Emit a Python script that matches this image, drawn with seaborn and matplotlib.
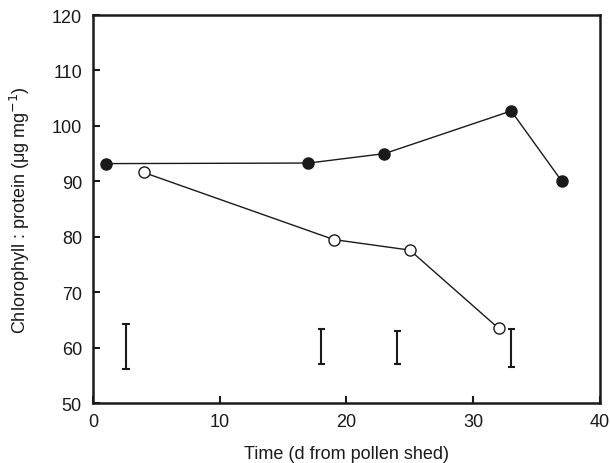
import matplotlib
matplotlib.use("Agg")
import matplotlib.pyplot as plt
import seaborn as sns
import pandas as pd

filled_x = [1, 17, 23, 33, 37]
filled_y = [93.2, 93.3, 95.0, 102.7, 90.0]
open_x = [4, 19, 25, 32]
open_y = [91.6, 79.5, 77.6, 63.5]
bar_x = [2.6, 18.0, 24.0, 33.0]
bar_lo = [56.1, 57.0, 57.0, 56.6]
bar_hi = [64.2, 63.3, 63.1, 63.4]

sns.set_theme(style="ticks")
plt.rcParams['font.family'] = ['Liberation Sans', 'DejaVu Sans']

fig = plt.figure(figsize=(6.1, 4.64), dpi=100)
ax = fig.add_axes([0.1525, 0.129, 0.831, 0.8365])

df_f = pd.DataFrame({"x": filled_x, "y": filled_y})
df_o = pd.DataFrame({"x": open_x, "y": open_y})

sns.lineplot(data=df_f, x="x", y="y", ax=ax, color="#1a1a1a", lw=1.0,
             marker="o", markersize=8, markerfacecolor="#1a1a1a",
             markeredgecolor="#1a1a1a", markeredgewidth=1.0, zorder=3)
sns.lineplot(data=df_o, x="x", y="y", ax=ax, color="#1a1a1a", lw=1.0,
             marker="o", markersize=8, markerfacecolor="white",
             markeredgecolor="#1a1a1a", markeredgewidth=1.0, zorder=3)

for x, lo, hi in zip(bar_x, bar_lo, bar_hi):
    ax.vlines(x, lo, hi, color="#1a1a1a", lw=1.5)
    ax.hlines([lo, hi], x - 0.28, x + 0.28, color="#1a1a1a", lw=1.5)

ax.set_xlim(0, 40)
ax.set_ylim(50, 120)
ax.set_xticks([0, 10, 20, 30, 40])
ax.set_yticks(range(50, 121, 10))
ax.tick_params(direction="in", length=5, width=1.5, labelsize=13, colors="#1a1a1a",
               top=False, right=False)
ax.tick_params(axis="x", pad=7)
ax.tick_params(axis="y", pad=8)
for s in ax.spines.values():
    s.set_linewidth(1.8)
    s.set_color("#1a1a1a")
    s.set_visible(True)
ax.set_xlabel("Time (d from pollen shed)", fontsize=13, color="#1a1a1a", labelpad=11)
ax.set_ylabel("Chlorophyll : protein (μg mg$^{-1}$)", fontsize=13, color="#1a1a1a", labelpad=14)

fig.savefig("out.png", dpi=100)
